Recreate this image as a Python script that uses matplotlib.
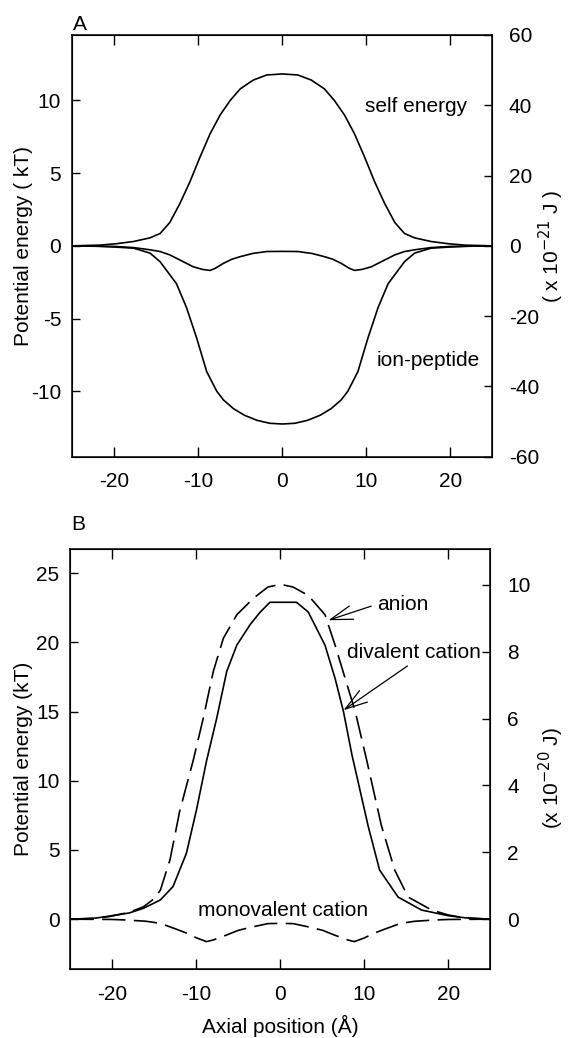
import matplotlib
matplotlib.use("Agg")
import matplotlib.pyplot as plt

plt.rcParams['font.family'] = ['Liberation Sans', 'DejaVu Sans']
plt.rcParams['font.size'] = 15
plt.rcParams['axes.unicode_minus'] = False

# ---- panel A: energies (kT) vs axial position (A)
self_x = [-25, -21.7, -19.7, -17.7, -15.75, -14.55, -13.4, -12.2, -11, -9.8, -8.6, -7.4, -6.2, -5, -3.45, -1.85,
          0, 1.85, 3.45, 5, 6.2, 7.4, 8.6, 9.8, 11, 12.2, 13.4, 14.55, 15.75, 17.7, 19.7, 21.7, 25]
self_e = [0, 0.05, 0.15, 0.3, 0.55, 0.85, 1.6, 2.9, 4.4, 6.1, 7.7, 9.0, 10.0, 10.8, 11.4, 11.75,
          11.82, 11.75, 11.4, 10.8, 10.0, 9.0, 7.7, 6.1, 4.4, 2.9, 1.6, 0.85, 0.55, 0.3, 0.15, 0.05, 0]

ionpep_x = [-25, -22, -20, -17.7, -15.75, -14.55, -13.8, -12.6, -11.4, -10.2, -9, -7.8, -7, -5.8, -4.5, -3, -1.5,
            0, 1.5, 3, 4.5, 5.8, 7, 7.8, 9, 10.2, 11.4, 12.6, 13.8, 14.55, 15.75, 17.7, 20, 22, 25]
ionpep_e = [0, -0.03, -0.08, -0.16, -0.5, -1.09, -1.67, -2.6, -4.25, -6.33, -8.65, -10.0, -10.6, -11.2, -11.65, -12.0, -12.2,
            -12.25, -12.2, -12.0, -11.65, -11.2, -10.6, -10.0, -8.65, -6.33, -4.25, -2.6, -1.67, -1.09, -0.5, -0.16, -0.08, -0.03, 0]

total_x = [-25, -20, -17.7, -16, -14.55, -13.4, -12.2, -10.6, -9.5, -8.6, -8, -7, -6, -5, -3.5, -1.85,
           0, 1.85, 3.5, 5, 6, 7, 8, 8.6, 9.5, 10.6, 12.2, 13.4, 14.55, 16, 17.7, 20, 25]
total_e = [0, -0.04, -0.12, -0.25, -0.39, -0.62, -0.97, -1.44, -1.62, -1.69, -1.55, -1.2, -0.92, -0.74, -0.52, -0.39,
           -0.38, -0.39, -0.52, -0.74, -0.92, -1.2, -1.55, -1.69, -1.62, -1.44, -0.97, -0.62, -0.39, -0.25, -0.12, -0.04, 0]

# ---- panel B
anion_x = [-25, -22, -20.3, -18, -16.3, -15, -14.3, -13.15, -12, -10.4, -9.2, -8, -6.8, -5.2, -3.2, -1.5,
           0, 1.5, 3.3, 5.3, 6.5, 7.7, 8.9, 10.3, 12, 13.6, 15.2, 18, 20, 22, 25]
anion_e = [0, 0.05, 0.2, 0.5, 0.9, 1.5, 2.1, 4.3, 7.8, 11.45, 14.5, 17.9, 20.3, 22.0, 23.2, 24.0,
           24.2, 24.0, 23.4, 22.0, 19.8, 17.4, 15.0, 11.4, 6.8, 3.55, 1.6, 0.66, 0.3, 0.08, 0]

dival_x = [-25, -22, -20.3, -18, -16.3, -14.3, -12.8, -11.2, -10, -8.8, -7.6, -6.4, -5.2, -3.6, -2.4, -1.25,
           1.9, 3.3, 5.3, 6.5, 7.5, 8.5, 10.45, 11.8, 14, 16.8, 20, 22, 25]
dival_e = [0, 0.08, 0.23, 0.45, 0.79, 1.39, 2.35, 4.76, 7.9, 11.45, 14.5, 17.9, 19.8, 21.3, 22.2, 22.9,
           22.9, 22.2, 19.8, 17.4, 15.0, 11.9, 6.7, 3.55, 1.6, 0.66, 0.25, 0.1, 0]

monov_x = [-25, -20, -18.3, -16, -14.3, -12.5, -11.2, -10, -8.8, -8, -6.4, -5, -3.2, -1.5,
           0, 1.5, 3.2, 5, 6.4, 8, 8.8, 10, 11.2, 12.5, 14.3, 16, 18.3, 20, 25]
monov_e = [0, -0.02, -0.06, -0.15, -0.3, -0.7, -1.0, -1.35, -1.62, -1.5, -1.14, -0.8, -0.54, -0.32,
           -0.3, -0.32, -0.54, -0.8, -1.14, -1.5, -1.62, -1.35, -1.0, -0.7, -0.3, -0.15, -0.06, -0.02, 0]

x_ticks = [-20, -10, 0, 10, 20]

fig = plt.figure(figsize=(5.68, 10.38), dpi=100)


def style(ax, ypad):
    ax.set_xlim(-25, 25)
    ax.set_xticks(x_ticks)
    ax.tick_params(axis='x', direction='in', top=True, length=7, width=1, pad=11)
    ax.tick_params(axis='y', direction='in', right=False, length=5.5, width=1, pad=ypad)
    for s in ax.spines.values():
        s.set_linewidth(1.1)


lw = 1.2
dash = (14, 5)

# ---- panel A
axA = fig.add_axes([0.1273, 0.56, 0.7394, 0.4063])
axA.plot(self_x, self_e, color='black', lw=lw)
axA.plot(ionpep_x, ionpep_e, color='black', lw=lw)
axA.plot(total_x, total_e, color='black', lw=lw)
style(axA, 8)
axA.set_ylim(-14.5, 14.5)
axA.set_yticks([-10, -5, 0, 5, 10])
axA.set_ylabel('Potential energy ( kT)', va='center')
axA.yaxis.set_label_coords(-0.116, 0.5)
axA.text(15.9, 9.6, 'self energy', ha='center', va='center')
axA.text(17.4, -7.9, 'ion-peptide', ha='center', va='center')

axA2 = axA.twinx()
axA2.set_ylim(-60, 60)
axA2.set_yticks([-60, -40, -20, 0, 20, 40, 60])
axA2.tick_params(axis='y', direction='in', length=5.5, width=1, pad=12)
axA2.set_ylabel('( x 10$^{-21}$ J )', va='center', rotation=90)
axA2.yaxis.set_label_coords(1.14, 0.5)

fig.text(80 / 568, 1 - 24 / 1038, 'A', ha='center', va='center')

# ---- panel B
axB = fig.add_axes([0.1241, 0.0662, 0.7394, 0.4049])
axB.plot(anion_x, anion_e, color='black', lw=lw, dashes=dash)
axB.plot(dival_x, dival_e, color='black', lw=lw)
axB.plot(monov_x, monov_e, color='black', lw=lw, dashes=dash)
style(axB, 8)
axB.set_ylim(-3.62, 26.75)
axB.set_yticks([0, 5, 10, 15, 20, 25])
axB.set_ylabel('Potential energy (kT)', va='center')
axB.yaxis.set_label_coords(-0.112, 0.5)
axB.set_xlabel('Axial position (Å)', labelpad=8)

arrow = dict(arrowstyle='->, head_length=0.8, head_width=0.25', color='black', lw=0.9,
             mutation_scale=20, shrinkA=2, shrinkB=0)
axB.annotate('anion', xy=(5.7, 21.6), xytext=(11.45, 22.75), ha='left', va='center',
             arrowprops=dict(arrow, relpos=(0, 0.5)))
axB.annotate('divalent cation', xy=(7.5, 15.1), xytext=(7.9, 19.3), ha='left', va='center',
             arrowprops=dict(arrow, relpos=(0.5, 0)))
axB.text(0.35, 0.65, 'monovalent cation', ha='center', va='center')

axB2 = axB.twinx()
axB2.set_ylim(-1.5, 11.07)
axB2.set_yticks([0, 2, 4, 6, 8, 10])
axB2.tick_params(axis='y', direction='in', length=5.5, width=1, pad=12)
axB2.set_ylabel('(x 10$^{-20}$ J)', va='center', rotation=90)
axB2.yaxis.set_label_coords(1.144, 0.455)

fig.text(78 / 568, 1 - 524 / 1038, 'B', ha='center', va='center')

fig.savefig('out.png', dpi=100)
